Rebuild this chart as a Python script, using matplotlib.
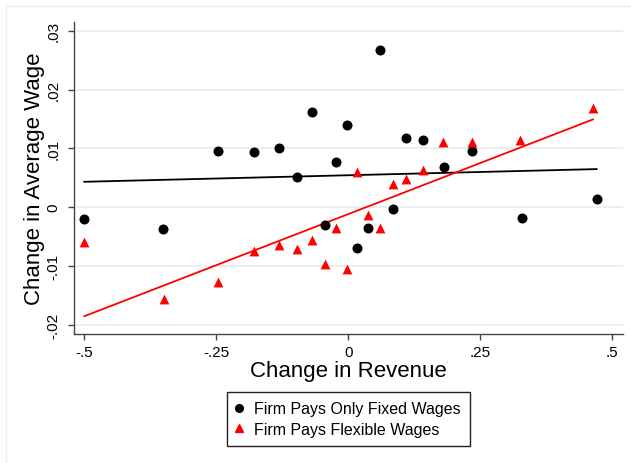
import numpy as np
import matplotlib
matplotlib.use("Agg")
import matplotlib.pyplot as plt
from matplotlib.lines import Line2D

plt.rcParams["font.family"] = ["Liberation Sans", "DejaVu Sans"]

# revenue change per bin (both groups share the same bins)
rev_fixed = [-0.500, -0.351, -0.246, -0.179, -0.131, -0.097, -0.069, -0.045, -0.023, -0.003,
             0.017, 0.038, 0.060, 0.084, 0.109, 0.142, 0.181, 0.235, 0.328, 0.470]
wage_fixed = [-0.0021, -0.0037, 0.0096, 0.0093, 0.0101, 0.0051, 0.0162, -0.0030, 0.0077, 0.0140,
              -0.0069, -0.0036, 0.0268, -0.0004, 0.0117, 0.0115, 0.0068, 0.0096, -0.0018, 0.0014]

rev_flex = [-0.500, -0.350, -0.246, -0.179, -0.131, -0.097, -0.069, -0.045, -0.023, -0.003,
            0.017, 0.038, 0.060, 0.084, 0.109, 0.141, 0.180, 0.234, 0.325, 0.463]
wage_flex = [-0.0060, -0.0156, -0.0127, -0.0075, -0.0065, -0.0071, -0.0056, -0.0097, -0.0036, -0.0105,
             0.0060, -0.0013, -0.0036, 0.0040, 0.0047, 0.0064, 0.0111, 0.0110, 0.0115, 0.0169]

# fitted lines (end points of the linear fit for each group)
fit_x_fixed = [-0.500, 0.470]
fit_y_fixed = [0.00431, 0.00647]
fit_x_flex = [-0.500, 0.463]
fit_y_flex = [-0.01857, 0.01492]

xticks = [-0.5, -0.25, 0, 0.25, 0.5]
xticklabels = ["-.5", "-.25", "0", ".25", ".5"]
yticks = [-0.02, -0.01, 0, 0.01, 0.02, 0.03]
yticklabels = ["-.02", "-.01", "0", ".01", ".02", ".03"]

W, H = 631, 464
fig = plt.figure(figsize=(W / 100, H / 100), dpi=100)
fig.patch.set_facecolor("white")

# faint outer frame of the graph region
fig.add_artist(Line2D([6 / W, 6 / W], [0, 1 - 7 / H], color="#eef0f0", lw=1))
fig.add_artist(Line2D([6 / W, 1], [1 - 7 / H, 1 - 7 / H], color="#eef0f0", lw=1))

ax = fig.add_axes([74 / W, (H - 335) / H, (623 - 74) / W, (335 - 23) / H])
ax.set_xlim(-0.5195, 0.520)
ax.set_ylim(-0.02159, 0.0315)

for y in yticks:
    ax.axhline(y, color="#e6eeef", lw=1.2, zorder=0)

ax.scatter(rev_fixed, wage_fixed, s=52, color="black", marker="o", zorder=3, linewidths=0)
ax.scatter(rev_flex, wage_flex, s=50, color="red", marker="^", zorder=3, linewidths=0)

ax.plot(fit_x_fixed, fit_y_fixed, color="black", lw=1.3, zorder=2)
ax.plot(fit_x_flex, fit_y_flex, color="red", lw=1.3, zorder=2)

for s in ["top", "right"]:
    ax.spines[s].set_visible(False)
for s in ["left", "bottom"]:
    ax.spines[s].set_color("#444444")
    ax.spines[s].set_linewidth(1.0)

ax.set_xticks(xticks)
ax.set_xticklabels(xticklabels)
ax.set_yticks(yticks)
ax.set_yticklabels(yticklabels, rotation=90, va="center")
ax.tick_params(axis="both", direction="out", length=4, width=1, color="#444444",
               labelsize=11)
ax.tick_params(axis="x", pad=4)
ax.tick_params(axis="y", pad=5.5)

ax.set_xlabel("Change in Revenue", fontsize=16, labelpad=1)
ax.set_ylabel("Change in Average Wage", fontsize=16)
ax.yaxis.set_label_coords(-0.0619, 0.5)
ax.yaxis.label.set_verticalalignment("baseline")

handles = [
    Line2D([], [], marker="o", color="black", ls="none", markersize=5.5),
    Line2D([], [], marker="^", color="red", ls="none", markersize=5.5),
]
leg = fig.legend(handles, ["Firm Pays Only Fixed Wages", "Firm Pays Flexible Wages"],
                 loc="center", bbox_to_anchor=(348.3 / W, 1 - 420 / H), fontsize=11.5,
                 frameon=True, fancybox=False, edgecolor="#222222", framealpha=1,
                 handlelength=0.35, handletextpad=0.8, borderpad=0.55, labelspacing=0.35,
                 borderaxespad=0)
leg.get_frame().set_linewidth(1.0)

fig.savefig("out.png", dpi=100)
